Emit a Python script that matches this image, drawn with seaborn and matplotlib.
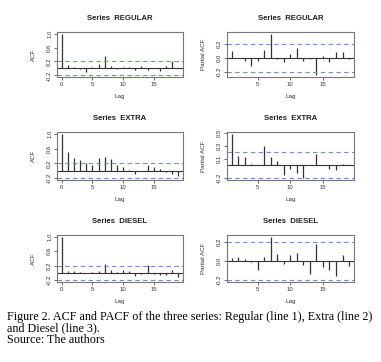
import numpy as np
import pandas as pd
import matplotlib
matplotlib.use('Agg')
import matplotlib.pyplot as plt
import seaborn as sns

# ACF values (lags 0..19)
acf_regular = [1.0, 0.11, 0.03, -0.03, -0.10, 0.05, 0.12, 0.37, 0.08, -0.03,
               0.03, 0.04, -0.05, 0.06, -0.04, 0.02, -0.07, 0.08, 0.20, 0.02]
acf_extra = [1.0, 0.50, 0.34, 0.30, 0.22, 0.15, 0.34, 0.37, 0.32, 0.17,
             0.11, 0.01, -0.09, 0.00, 0.15, 0.09, 0.05, -0.02, -0.08, -0.14]
acf_diesel = [1.0, 0.05, 0.05, 0.03, -0.01, 0.02, 0.05, 0.25, 0.07, 0.04,
              0.09, 0.06, -0.08, -0.02, 0.21, -0.03, -0.06, -0.05, 0.07, -0.12]

# PACF values (lags 1..19)
pacf_regular = [0.10, 0.00, -0.04, -0.12, -0.04, 0.12, 0.35, -0.01, -0.06, 0.06,
                0.15, -0.04, -0.02, -0.25, 0.03, -0.06, 0.09, 0.09, -0.01]
pacf_extra = [0.49, 0.14, 0.13, 0.02, 0.00, 0.30, 0.13, 0.07, -0.15, -0.06,
              -0.12, -0.20, 0.01, 0.17, 0.00, -0.06, -0.08, 0.02, 0.00]
pacf_diesel = [0.03, 0.04, 0.02, -0.015, -0.095, 0.045, 0.25, 0.07, -0.03, 0.065,
               0.08, -0.045, -0.135, 0.175, -0.06, -0.095, -0.16, 0.065, -0.05]

series_names = ["REGULAR", "EXTRA", "DIESEL"]
conf_limit = 0.2

acf_ticks = [-0.2, 0.2, 0.6, 1.0]
pacf_ticks = {
    "REGULAR": [-0.2, 0.0, 0.2],
    "EXTRA": [-0.2, 0.1, 0.3, 0.5],
    "DIESEL": [-0.2, 0.0, 0.2],
}

caption = ("Figure 2. ACF and PACF of the three series: Regular (line 1), Extra (line 2)\n"
           "and Diesel (line 3).\n"
           "Source: The authors")

sns.set_theme(style="white")
plt.rcParams['font.family'] = ['Liberation Sans', 'DejaVu Sans']

W, H = 381, 362
fig = plt.figure(figsize=(W / 100, H / 100), dpi=100)

# axes boxes in pixels: (left, top, width, height)
rows_px = [(32, 45), (132, 48), (235, 47)]
cols_px = [(57, 126), (227, 127)]

blue = "#6f8fcf"
spike_col = "#333333"
box_col = "#777777"


def r_range(vals):
    lo = min(min(vals), -conf_limit)
    hi = max(max(vals), conf_limit)
    pad = (hi - lo) * 0.04
    return lo - pad, hi + pad


def draw_panel(ax, lags, vals, ticks, ylabel, title, xticks):
    df = pd.DataFrame({"lag": lags, "value": vals})
    ax.vlines(df["lag"], 0, df["value"], color=spike_col, lw=0.9)
    ax.axhline(0, color=spike_col, lw=0.8)
    for c in (conf_limit, -conf_limit):
        ax.axhline(c, color=blue, lw=0.8, ls=(0, (4, 3)))
    ax.set_xlim(-0.76 if lags[0] == 0 else 0.28, 19.76)
    ax.set_ylim(*r_range(vals))
    ax.set_yticks(ticks)
    ax.set_yticklabels([f"{t:.1f}" for t in ticks], rotation=90, va="center")
    ax.set_xticks(xticks)
    ax.tick_params(axis="both", labelsize=4.3, length=2, width=0.5,
                   pad=1.5, colors="#333333", left=True, bottom=True)
    ax.set_xlabel("Lag", fontsize=4.5, labelpad=5, color="#333333")
    ax.set_ylabel(ylabel, fontsize=4.5, labelpad=8, color="#333333")
    ax.set_title(title, fontsize=5.6, fontweight="bold", pad=8.5, color="#222222")
    for s in ax.spines.values():
        s.set_color(box_col)
        s.set_linewidth(0.8)
    ax.grid(False)


acf_all = [acf_regular, acf_extra, acf_diesel]
pacf_all = [pacf_regular, pacf_extra, pacf_diesel]

for i, name in enumerate(series_names):
    top, h = rows_px[i]
    for j, (left, w) in enumerate(cols_px):
        ax = fig.add_axes([left / W, (H - top - h) / H, w / W, h / H])
        if j == 0:
            draw_panel(ax, list(range(20)), acf_all[i], acf_ticks, "ACF",
                       f"Series  {name}", [0, 5, 10, 15])
        else:
            draw_panel(ax, list(range(1, 20)), pacf_all[i], pacf_ticks[name],
                       "Partial ACF", f"Series  {name}", [5, 10, 15])

fig.text(7 / W, 1 - 311 / H, caption, fontsize=8.7, family="Liberation Serif",
         va="top", ha="left", linespacing=0.95, color="black")

fig.savefig("out.png", dpi=100)
